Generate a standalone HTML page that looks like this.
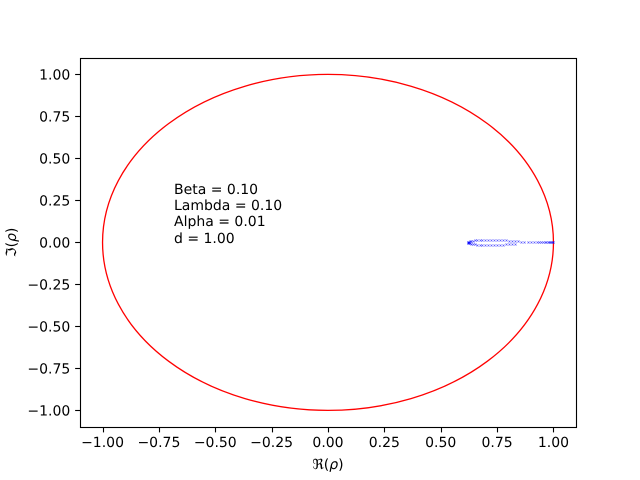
<!DOCTYPE html>
<html>
<head>
<meta charset="utf-8">
<title>Reflection coefficient</title>
<style>
html,body{margin:0;padding:0;background:#fff;}
svg{display:block;}
text{font-family:"DejaVu Sans","Liberation Sans",sans-serif;font-size:14px;fill:#000;text-rendering:geometricPrecision;}
</style>
</head>
<body>
<svg id="chart" width="640" height="480" viewBox="0 0 640 480" xmlns="http://www.w3.org/2000/svg">
<rect x="0" y="0" width="640" height="480" fill="#fff"></rect>
<g id="marks"></g>
<g id="axes"></g>
<g>
<text x="174" y="194">Beta = 0.10</text>
<text x="174" y="210">Lambda = 0.10</text>
<text x="174" y="226">Alpha = 0.01</text>
<text x="174" y="243">d = 1.00</text>
</g>
<text x="328" y="469" text-anchor="middle">ℜ(<tspan font-style="italic">ρ</tspan>)</text>
<text transform="translate(16 242.4) rotate(-90)" text-anchor="middle">ℑ(<tspan font-style="italic">ρ</tspan>)</text>
</svg>
<script>
const xTicks = [-1, -0.75, -0.5, -0.25, 0, 0.25, 0.5, 0.75, 1];
const yTicks = [-1, -0.75, -0.5, -0.25, 0, 0.25, 0.5, 0.75, 1];
const xTickLabels = ['−1.00', '−0.75', '−0.50', '−0.25', '0.00', '0.25', '0.50', '0.75', '1.00'];
const yTickLabels = ['−1.00', '−0.75', '−0.50', '−0.25', '0.00', '0.25', '0.50', '0.75', '1.00'];
const xDomain = [-1.1, 1.1];
const yDomain = [-1.1, 1.1];
const circleRadius = [1];
const rhoRe = [1.000, 0.997, 0.994, 0.990, 0.986, 0.981, 0.975, 0.968, 0.961, 0.954, 0.946, 0.937, 0.925, 0.912, 0.900, 0.885, 0.871, 0.857, 0.843, 0.830, 0.817, 0.804, 0.791, 0.777, 0.763, 0.750, 0.737, 0.724, 0.711, 0.698, 0.685, 0.672, 0.660, 0.650, 0.642, 0.636, 0.630, 0.626, 0.623, 0.621, 0.620, 0.621, 0.623, 0.626, 0.630, 0.636, 0.642, 0.650, 0.660, 0.672, 0.685, 0.698, 0.711, 0.724, 0.737, 0.750, 0.763, 0.777, 0.791, 0.804, 0.817, 0.830];
const rhoIm = [0.000, 0.000, 0.000, 0.000, 0.000, 0.000, 0.000, 0.000, 0.000, 0.000, 0.000, 0.000, 0.000, 0.000, 0.000, 0.000, 0.000, 0.000, 0.006, 0.009, 0.009, 0.010, 0.012, 0.015, 0.015, 0.015, 0.015, 0.015, 0.015, 0.015, 0.015, 0.015, 0.014, 0.012, 0.010, 0.008, 0.006, 0.004, 0.002, 0.001, 0.000, -0.001, -0.002, -0.004, -0.006, -0.008, -0.010, -0.012, -0.014, -0.015, -0.015, -0.015, -0.015, -0.015, -0.015, -0.015, -0.015, -0.015, -0.012, -0.010, -0.009, -0.009];

const NS = 'http://www.w3.org/2000/svg';
const plotLeft = 80, plotRight = 576, plotTop = 57.6, plotBottom = 427.2;
function xScale(v) { return plotLeft + (v - xDomain[0]) / (xDomain[1] - xDomain[0]) * (plotRight - plotLeft); }
function yScale(v) { return plotBottom - (v - yDomain[0]) / (yDomain[1] - yDomain[0]) * (plotBottom - plotTop); }
function make(tag, attrs) {
  const el = document.createElementNS(NS, tag);
  for (const k in attrs) el.setAttribute(k, attrs[k]);
  return el;
}
const marks = document.getElementById('marks');
const axes = document.getElementById('axes');

circleRadius.forEach(function (r) {
  const circle = make('ellipse', {
    cx: xScale(0), cy: yScale(0),
    rx: xScale(r) - xScale(0), ry: yScale(0) - yScale(r),
    fill: 'none', stroke: '#ff0000', 'stroke-width': 1.3
  });
  
  
  marks.appendChild(circle);
});

rhoRe.forEach(function (re, i) {
  const px = Math.round(xScale(re)) + 0.5, py = Math.round(yScale(rhoIm[i])) + 0.5, s = 1;
  const pt = make('path', {
    d: 'M' + (px - s) + ' ' + (py - s) + 'L' + (px + s) + ' ' + (py + s) + 'M' + (px - s) + ' ' + (py + s) + 'L' + (px + s) + ' ' + (py - s),
    fill: 'none', stroke: '#0000ff', 'stroke-width': 0.6, 'stroke-opacity': 0.65
  });
  
  
  marks.appendChild(pt);
});

const frame = make('rect', {
  x: Math.floor(plotLeft) + 0.5,
  y: Math.ceil(plotTop) + 0.5,
  width: Math.floor(plotRight) - Math.floor(plotLeft),
  height: Math.floor(plotBottom) - Math.ceil(plotTop),
  fill: 'none', stroke: '#000', 'stroke-width': 1.11
});


axes.appendChild(frame);

xTicks.forEach(function (v, i) {
  const x = Math.round(xScale(v)) + 0.5;
  const tick = make('line', { x1: x, x2: x, y1: plotBottom + 0.5, y2: plotBottom + 5.2, stroke: '#000', 'stroke-width': 1.11 });
  
  
  axes.appendChild(tick);
  const label = make('text', { x: xScale(v), y: 447, 'text-anchor': 'middle' });
  label.textContent = xTickLabels[i];
  
  
  axes.appendChild(label);
});

yTicks.forEach(function (v, i) {
  const y = Math.round(yScale(v)) + 0.5;
  const tick = make('line', { x1: plotLeft - 4.86, x2: plotLeft, y1: y, y2: y, stroke: '#000', 'stroke-width': 1.11 });
  
  
  axes.appendChild(tick);
  const label = make('text', { x: 70.3, y: yScale(v) + 5, 'text-anchor': 'end' });
  label.textContent = yTickLabels[i];
  
  
  axes.appendChild(label);
});
</script>
</body>
</html>
